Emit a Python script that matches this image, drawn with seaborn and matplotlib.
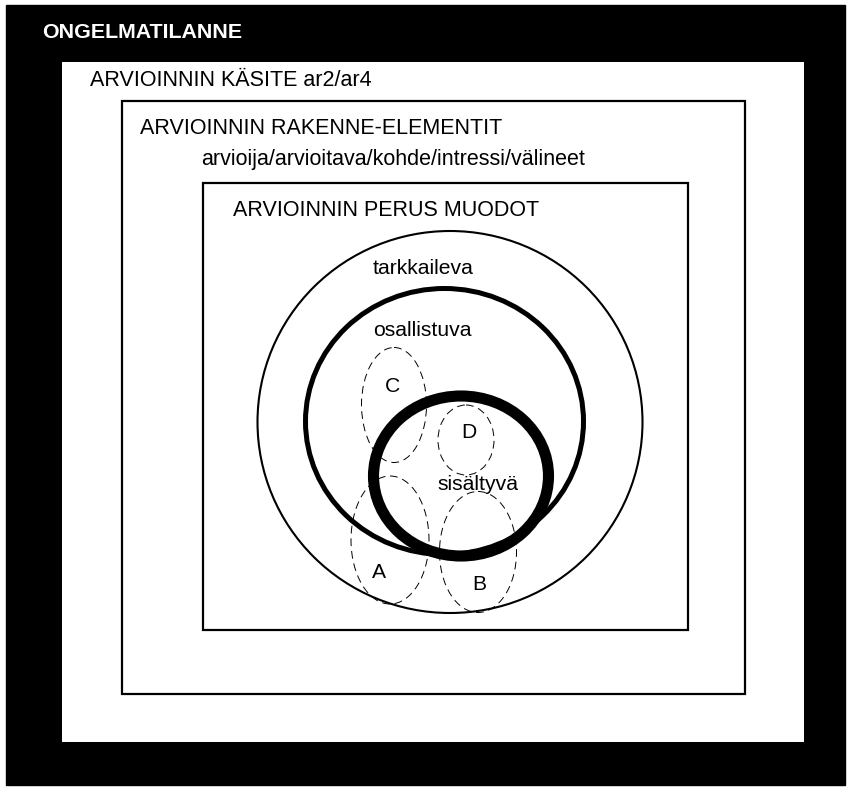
import matplotlib
matplotlib.use("Agg")
import matplotlib.pyplot as plt
from matplotlib.patches import Ellipse, Rectangle
import seaborn as sns

# nested frames: (left, top, right, bottom) in pixel units of the page
FRAME_NAMES = ["ongelmatilanne", "kasite", "rakenne", "perus"]
FRAME_BOXES = [(6, 5, 845, 785), (62, 62, 804, 742), (122, 101, 745, 694), (203, 183, 688, 630)]

# titles drawn at the top left of each frame
TITLES = [
    "ONGELMATILANNE",
    "ARVIOINNIN KÄSITE ar2/ar4",
    "ARVIOINNIN RAKENNE-ELEMENTIT",
    "arvioija/arvioitava/kohde/intressi/välineet",
    "ARVIOINNIN PERUS MUODOT",
]
TITLE_POS = [(42, 32), (90, 80), (140, 129), (201, 160), (233, 211)]

# the three forms of evaluation (solid ellipses): centre x, centre y, width, height
FORMS = ["tarkkaileva", "osallistuva", "sisältyvä"]
FORM_ELLIPSES = [(450, 422, 385, 382), (444.5, 421.5, 278, 266), (461, 476, 175, 160)]
FORM_LABEL_POS = [(423, 268), (422, 330), (478, 485)]

# dashed cases A-D
CASES = ["A", "B", "C", "D"]
CASE_ELLIPSES = [(390, 540, 78, 128), (478, 552, 77, 121), (394, 405, 65, 115), (466, 440, 56, 70)]
CASE_LABEL_POS = [(379, 573), (479, 585), (392, 387), (469, 433)]

sns.set_theme(style="white")
plt.rcParams["font.family"] = ["Liberation Sans", "DejaVu Sans"]
plt.rcParams["text.color"] = "black"

fig = plt.figure(figsize=(8.51, 7.87), dpi=100)
ax = fig.add_axes([0, 0, 1, 1])
ax.set_xlim(0, 851)
ax.set_ylim(787, 0)
ax.set_aspect("equal")
ax.axis("off")

# frames
for name, (x0, y0, x1, y1) in zip(FRAME_NAMES, FRAME_BOXES):
    if name == "ongelmatilanne":
        ax.add_patch(Rectangle((x0, y0), x1 - x0, y1 - y0, facecolor="black", edgecolor="black"))
    elif name == "kasite":
        ax.add_patch(Rectangle((x0, y0), x1 - x0, y1 - y0, facecolor="white", edgecolor="none"))
    else:
        ax.add_patch(Rectangle((x0, y0), x1 - x0, y1 - y0, facecolor="none",
                               edgecolor="black", linewidth=1.6))

for i, (txt, (x, y)) in enumerate(zip(TITLES, TITLE_POS)):
    if i == 0:
        ax.text(x, y, txt, color="white", fontsize=15.4, fontweight="bold", ha="left", va="center")
    else:
        ax.text(x, y, txt, color="black", fontsize=15.5, ha="left", va="center")

# solid ellipses, thicker as they go inward
form_widths = [1.5, 3.6, 8.0]
for (cx, cy, w, h), lw in zip(FORM_ELLIPSES, form_widths):
    ax.add_patch(Ellipse((cx, cy), w, h, facecolor="none", edgecolor="black", linewidth=lw))

for (cx, cy, w, h) in CASE_ELLIPSES:
    ax.add_patch(Ellipse((cx, cy), w, h, facecolor="none", edgecolor="black",
                         linewidth=0.7, linestyle=(0, (8, 5))))

for txt, (x, y) in zip(FORMS, FORM_LABEL_POS):
    ax.text(x, y, txt, color="black", fontsize=15.2, ha="center", va="center")

for txt, (x, y) in zip(CASES, CASE_LABEL_POS):
    ax.text(x, y, txt, color="black", fontsize=15.2, ha="center", va="center")

fig.savefig("out.png", dpi=100)
